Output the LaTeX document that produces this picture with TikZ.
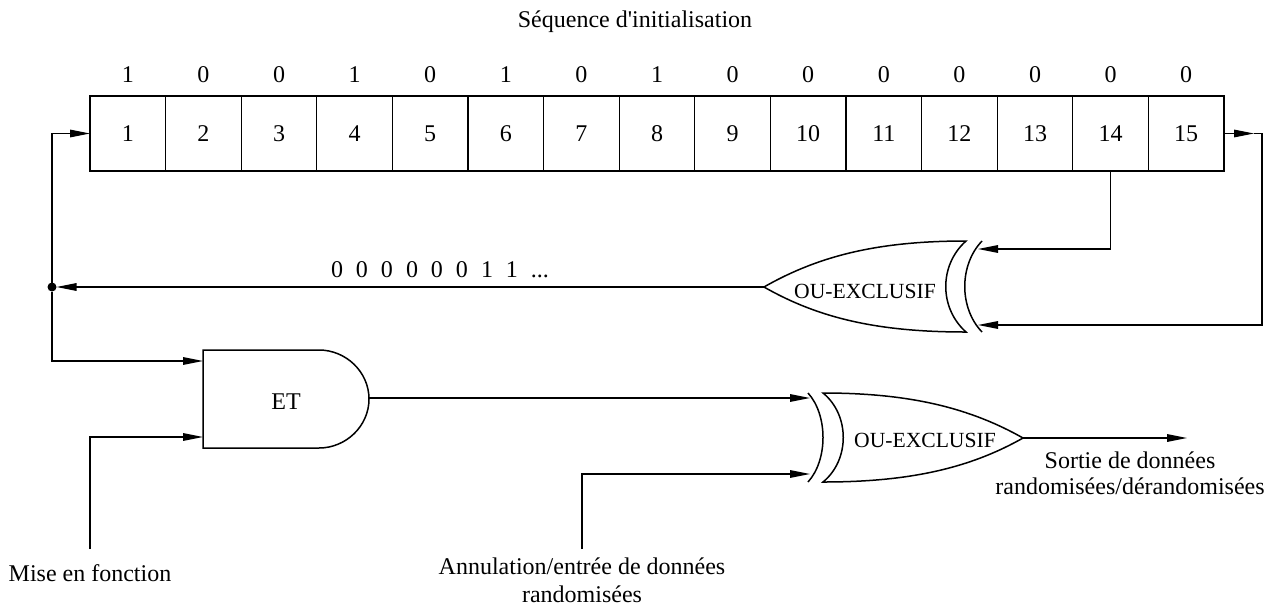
\documentclass[tikz,border=0pt]{standalone}
\usepackage{fontspec}
\setmainfont{Liberation Serif}[Ligatures=TeXOff]
\usetikzlibrary{arrows.meta,calc}
\begin{document}
\begin{tikzpicture}[x=0.5pt,y=-0.5pt,line width=0.65pt,
  font=\fontsize{12}{13}\selectfont,
  arr/.style={-{Triangle[length=10pt,width=3.8pt]}},
  gate/.style={draw,line width=0.75pt,fill=white},
  cell/.style={draw,line width=0.65pt,minimum width=37.8pt,minimum height=37.5pt,inner sep=0pt,outer sep=0pt},
  lbl/.style={inner sep=0pt,align=center},
  glbl/.style={inner sep=0pt,font=\fontsize{10.8}{12}\selectfont},
  dot/.style={circle,fill=black,inner sep=0pt,minimum size=4.5pt,outer sep=0pt}]
\useasboundingbox (0,0) rectangle (1274,606);

% title and initial sequence
\node[lbl] (title) at (635,22) {Séquence d'initialisation};
\foreach \i/\b in {1/1,2/0,3/0,4/1,5/0,6/1,7/0,8/1,9/0,10/0,11/0,12/0,13/0,14/0,15/0}{
  \node[cell] (c\i) at ({90+75.6*(\i-0.5)},133.5) {\i};
  \node[lbl] (b\i) at ({90+75.6*(\i-0.5)},75) {\b};
}

% XOR 1 (pointing left)
\draw[gate] (966,241) .. controls (880,241) and (820,255) .. (764,287)
  .. controls (820,319) and (880,332) .. (966,332)
  .. controls (939,308) and (939,265) .. (966,241) -- cycle;
\draw[line width=0.75pt] (982,241) .. controls (959,265) and (959,308) .. (982,332);
\node[glbl] (xor1) at (865,291) {OU-EXCLUSIF};
\coordinate (x1tip) at (764,287);
\coordinate (x1in1) at (978,249);
\coordinate (x1in2) at (978,325);

% XOR 2 (pointing right)
\draw[gate] (823,393) .. controls (910,393) and (970,408) .. (1023,438)
  .. controls (970,468) and (910,482) .. (823,482)
  .. controls (850,460) and (850,415) .. (823,393) -- cycle;
\draw[line width=0.75pt] (808,393) .. controls (828,415) and (828,460) .. (808,482);
\node[glbl] (xor2) at (925,440) {OU-EXCLUSIF};
\coordinate (x2in1) at (810,398);
\coordinate (x2in2) at (810,474);
\coordinate (x2out) at (1023,438);

% AND gate
\draw[gate] (319,448) -- (203,448) -- (203,350) -- (319,350)
  .. controls (346,350) and (369,372) .. (369,399)
  .. controls (369,426) and (346,448) .. (319,448) -- cycle;
\node[lbl] (et) at (286,402) {ET};
\coordinate (andin1) at (203,361);
\coordinate (andin2) at (203,437);
\coordinate (andout) at (369,398);

% junction and endpoints
\node[dot] (J) at (52,287) {};
\coordinate (r1) at (1254,133.5);
\coordinate (rc) at (1262,133.5);
\coordinate (mise) at (90,549);
\coordinate (annul) at (582,549);
\coordinate (outend) at (1187,438);

% feedback sequence label
\node[lbl] (seq) at (440,270) {0\hspace{6.5pt}0\hspace{6.5pt}0\hspace{6.5pt}0\hspace{6.5pt}0\hspace{6.5pt}0\hspace{6.5pt}1\hspace{6.5pt}1\hspace{6.5pt}...};

% connectors
\draw[arr] (J) |- (c1.west);
\draw[arr] (x1tip) -- (J);
\draw[arr] (J) |- (andin1);
\draw[arr] (mise) |- (andin2);
\draw[arr] (andout) -- (x2in1);
\draw[arr] (annul) |- (x2in2);
\draw[arr] (x2out) -- (outend);
\draw[arr] (c14.south) |- (x1in1);
\draw[arr] (c15.east) -- (r1);
\draw[arr] (r1) -- (rc) |- (x1in2);

% labels
\node[lbl] (lmise) at (90,573) {Mise en fonction};
\node[lbl,font=\fontsize{12}{14}\selectfont] (lannul) at (582,580) {Annulation/entrée de données\\randomisées};
\node[lbl,font=\fontsize{12}{13}\selectfont] (lsortie) at (1130,473) {Sortie de données\\randomisées/dérandomisées};
\end{tikzpicture}
\end{document}
